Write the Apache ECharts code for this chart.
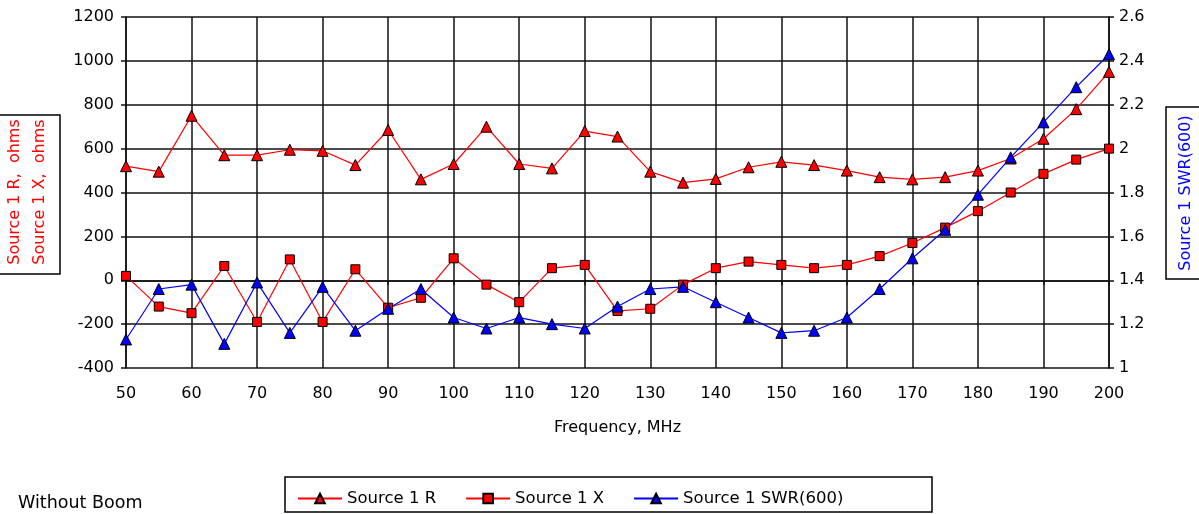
<!DOCTYPE html>
<html><head><meta charset="utf-8">
<script src="https://cdn.jsdelivr.net/npm/echarts@6/dist/echarts.min.js"></script>
<style>html,body{margin:0;padding:0;background:#fff}#c{width:1199px;height:514px}</style>
</head><body><div id="c"></div>
<script>
const freqs = [50,55,60,65,70,75,80,85,90,95,100,105,110,115,120,125,130,135,140,145,150,155,160,165,170,175,180,185,190,195,200];
const sourceR = [520,495,750,570,570,595,590,525,685,460,530,700,530,510,680,655,495,445,462,515,540,525,500,470,460,470,500,555,645,780,950];
const sourceX = [20,-120,-150,65,-190,95,-190,50,-125,-80,100,-20,-100,55,70,-140,-130,-20,55,85,70,55,70,110,170,240,315,400,485,550,600];
const swr = [1.13,1.36,1.38,1.11,1.39,1.16,1.37,1.17,1.27,1.36,1.23,1.18,1.23,1.2,1.18,1.28,1.36,1.37,1.30,1.23,1.16,1.17,1.23,1.36,1.50,1.63,1.79,1.96,2.12,2.28,2.43];
const seriesNames = ['Source 1 R','Source 1 X','Source 1 SWR(600)'];
const leftAxisTitle = ['Source 1 R,  ohms','Source 1 X,  ohms'];
const rightAxisTitle = 'Source 1 SWR(600)';
const xAxisTitle = 'Frequency, MHz';
const note = 'Without Boom';

const FONT = 'DejaVu Sans';
const pairs = arr => freqs.map((f,i)=>[f,arr[i]]);
const chart = echarts.init(document.getElementById('c'), null, {renderer:'canvas'});
const gridLine = {show:true, lineStyle:{color:'#111', width:1.5}};
const axisLine = {show:true, lineStyle:{color:'#111', width:1.5}};
const tick = {show:true, length:5, lineStyle:{color:'#111', width:1.5}};
const lbl = {color:'#000', fontFamily:FONT, fontSize:16};
chart.setOption({
  animation:false,
  backgroundColor:'#fff',
  grid:{left:126, top:17, width:983, height:351, show:false},
  legend:{
    left:292, top:485, itemGap:29, itemWidth:44, itemHeight:12,
    textStyle:{color:'#000', fontFamily:FONT, fontSize:16.5},
    data:seriesNames
  },
  xAxis:{
    type:'value', min:50, max:200, interval:10,
    axisLine:axisLine, axisTick:tick, splitLine:gridLine,
    axisLabel:Object.assign({margin:18, formatter:v=>String(v)}, lbl),
    name:xAxisTitle, nameLocation:'middle', nameGap:52,
    nameTextStyle:{color:'#000', fontFamily:FONT, fontSize:16}
  },
  yAxis:[
    {type:'value', min:-400, max:1200, interval:200, position:'left',
     axisLine:axisLine, axisTick:tick, splitLine:gridLine,
     axisLabel:Object.assign({margin:12, formatter:v=>String(v)}, lbl)},
    {type:'value', min:1, max:2.6, interval:0.2, position:'right',
     axisLine:axisLine, axisTick:tick, splitLine:{show:false},
     axisLabel:Object.assign({margin:10, formatter:v=>String(Math.round(v*10)/10)}, lbl)}
  ],
  series:[
    {name:seriesNames[0], type:'line', yAxisIndex:0, data:pairs(sourceR),
     symbol:'triangle', symbolSize:11, lineStyle:{color:'#ff0000', width:1.2},
     itemStyle:{color:'#ff0000', borderColor:'#000', borderWidth:1}},
    {name:seriesNames[1], type:'line', yAxisIndex:0, data:pairs(sourceX),
     symbol:'rect', symbolSize:9, lineStyle:{color:'#ff0000', width:1.2},
     itemStyle:{color:'#ff0000', borderColor:'#000', borderWidth:1}},
    {name:seriesNames[2], type:'line', yAxisIndex:1, data:pairs(swr),
     symbol:'triangle', symbolSize:11, lineStyle:{color:'#0000ff', width:1.2},
     itemStyle:{color:'#0000ff', borderColor:'#000', borderWidth:1}}
  ],
  graphic:[
    {type:'rect', shape:{x:-2, y:115, width:62, height:159}, style:{fill:'#fff', stroke:'#000', lineWidth:1.5}, z:0},
    {type:'group', x:15, y:192, rotation:Math.PI/2, children:[
      {type:'text', style:{text:leftAxisTitle[0], x:0, y:0, align:'center', verticalAlign:'middle', fill:'#ff0000', font:'16px "DejaVu Sans"'}}]},
    {type:'group', x:40, y:192, rotation:Math.PI/2, children:[
      {type:'text', style:{text:leftAxisTitle[1], x:0, y:0, align:'center', verticalAlign:'middle', fill:'#ff0000', font:'16px "DejaVu Sans"'}}]},
    {type:'rect', shape:{x:1166, y:107, width:40, height:172}, style:{fill:'#fff', stroke:'#000', lineWidth:1.5}, z:0},
    {type:'group', x:1186, y:193, rotation:Math.PI/2, children:[
      {type:'text', style:{text:rightAxisTitle, x:0, y:0, align:'center', verticalAlign:'middle', fill:'#0000ff', font:'16px "DejaVu Sans"'}}]},
    {type:'rect', shape:{x:285, y:477, width:647, height:35}, style:{fill:'none', stroke:'#000', lineWidth:1.5}, z:0},
    {type:'text', style:{text:note, x:18, y:503, verticalAlign:'middle', fill:'#000', font:'17.5px "DejaVu Sans"'}}
  ]
});
</script></body></html>
